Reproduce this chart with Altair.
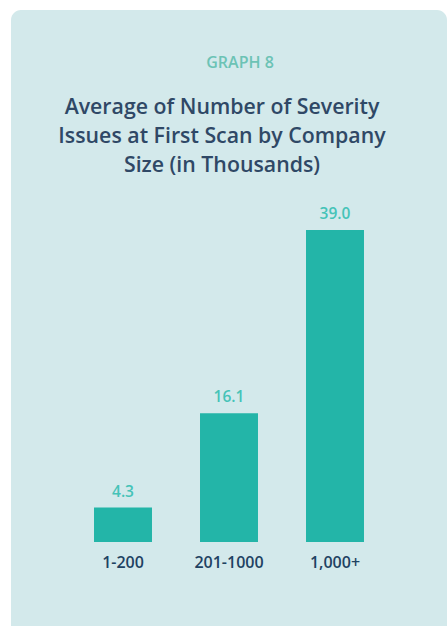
import altair as alt
import pandas as pd

categories = ["1-200", "201-1000", "1,000+"]
values = [4.3, 16.1, 39.0]
value_labels = ["4.3", "16.1", "39.0"]

kicker = "GRAPH 8"
title_lines = "Average of Number of Severity\nIssues at First Scan by Company\nSize (in Thousands)"

df = pd.DataFrame({"cat": categories, "val": values, "lab": value_labels})

FONT = "Open Sans"
W, H = 448, 626

xs = alt.Scale(domain=categories, range=[70, 388], paddingInner=0.453, paddingOuter=0.2265)
ys = alt.Scale(domain=[0, 39], range=[542, 230], nice=False, zero=True)

panel = alt.Chart(pd.DataFrame({"a": [0]})).mark_rect(
    color="#d3e9eb", cornerRadius=10
).encode(
    x=alt.value(11), x2=alt.value(447), y=alt.value(10), y2=alt.value(660)
)

bars = alt.Chart(df).mark_bar(color="#23b5a8").encode(
    x=alt.X("cat:N", scale=xs, axis=None, sort=categories),
    y=alt.Y("val:Q", scale=ys, axis=None),
)

vlabels = alt.Chart(df).mark_text(
    font=FONT, fontSize=15.5, fontWeight=600, color="#45c3b8", baseline="middle", dy=-16
).encode(
    x=alt.X("cat:N", scale=xs, axis=None, sort=categories),
    y=alt.Y("val:Q", scale=ys, axis=None),
    text="lab:N",
)

clabels = alt.Chart(df).mark_text(
    font=FONT, fontSize=16, fontWeight=600, color="#1e4262", baseline="middle"
).encode(
    x=alt.X("cat:N", scale=xs, axis=None, sort=categories),
    y=alt.value(563),
    text="cat:N",
)

kick = alt.Chart(pd.DataFrame({"a": [0]})).mark_text(
    font=FONT, fontSize=16, fontWeight=600, color="#6cc3b5", baseline="middle", align="center"
).encode(x=alt.value(240), y=alt.value(63), text=alt.value(kicker))

ttl = alt.Chart(pd.DataFrame({"a": [0]})).mark_text(
    font=FONT, fontSize=21.3, fontWeight=600, color="#2f4866", baseline="middle",
    align="center", lineBreak="\n", lineHeight=29
).encode(x=alt.value(222), y=alt.value(108), text=alt.value(title_lines))

chart = alt.layer(panel, bars, vlabels, clabels, kick, ttl).properties(
    width=W, height=H, autosize=alt.AutoSizeParams(type="none"),
    padding=0, background="white"
).configure_view(stroke=None, clip=True)

chart.save("out.html", embed_options={"renderer": "svg", "actions": False})
